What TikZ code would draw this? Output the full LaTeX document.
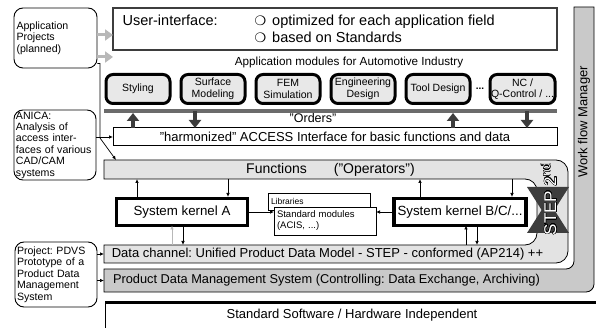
\documentclass[tikz,border=0pt]{standalone}
\usepackage{fontspec}
\setmainfont{Liberation Sans}
\newfontfamily\dingfont{DejaVu Sans}
\usepackage{contour}
\usetikzlibrary{arrows.meta, positioning}
\definecolor{bandgray}{gray}{0.89}
\definecolor{flowgray}{gray}{0.79}
\definecolor{modgray}{gray}{0.91}
\definecolor{bargray}{gray}{0.42}
\definecolor{ordergray}{gray}{0.24}
\definecolor{feedgray}{gray}{0.72}
\contourlength{0.35pt}
\contournumber{24}
\frenchspacing
\tikzstyle{project}=[rectangle, rounded corners=9pt, draw, line width=0.9pt, align=left, inner sep=1.5pt, text width=78pt, font=\fontsize{10.6}{11.4}\selectfont]
\tikzstyle{module}=[rectangle, rounded corners=7pt, draw, line width=3pt, fill=modgray, minimum width=64pt, minimum height=29pt, outer sep=0pt, inner sep=1pt, align=center, font=\fontsize{10.5}{11.5}\selectfont]
\tikzstyle{band}=[rectangle, outer sep=0pt, inner sep=0pt, font=\fontsize{13}{15}\selectfont]
\tikzstyle{kernel}=[rectangle, draw, line width=3.5pt, fill=white, minimum width=131pt, minimum height=27pt, outer sep=0pt, font=\fontsize{13.3}{15}\selectfont]
\tikzstyle{libbox}=[rectangle, draw, line width=0.8pt, fill=white, align=left, text width=96pt, inner xsep=3pt, inner ysep=1pt, outer sep=0pt]
\tikzstyle{link}=[-{Latex[length=4pt,width=3.5pt]}, line width=0.7pt]
\tikzstyle{order}=[-{Triangle[length=8pt,width=12pt]}, line width=3.5pt, draw=ordergray]
\tikzstyle{feed}=[-{Triangle[length=8pt,width=11pt]}, line width=3pt, draw=feedgray]

\begin{document}
\begin{tikzpicture}[x=1pt, y=-1pt]
  \useasboundingbox (0,0) rectangle (596,328);

  \path[draw, line width=0.8pt, fill=flowgray] (574,7) -- (594,7) -- (594,284)
    arc[start angle=0, end angle=-90, radius=8pt] -- (104,292) -- (104,269) -- (566,269)
    arc[start angle=-90, end angle=0, radius=8pt] -- cycle;
  \path[draw, line width=0.8pt, fill=bandgray] (104,160) -- (556,160)
    arc[start angle=90, end angle=0, radius=12pt] -- (568,251)
    arc[start angle=0, end angle=-90, radius=12pt] -- (104,263) -- (104,245) -- (525,245)
    arc[start angle=-90, end angle=0, radius=12pt] -- (537,191)
    arc[start angle=0, end angle=90, radius=12pt] -- (104,179) -- cycle;

  \node[project, minimum width=83pt, minimum height=60pt] (proj) at (55.5,38) {Application\\Projects\\(planned)};
  \node[project, minimum width=82pt, minimum height=70pt] (anica) at (55,145) {ANICA:\\Analysis of\\access inter-\\faces of various\\CAD/CAM\\systems};
  \node[project, minimum width=82pt, minimum height=65pt] (pdvs) at (56,274.5) {Project: PDVS\\Prototype of a\\Product Data\\Management\\System};

  \node[draw=ordergray, line width=2pt, minimum width=444pt, minimum height=42pt, outer sep=0pt] (ui) at (335,29) {};
  \node[anchor=west, font=\fontsize{14.5}{17}\selectfont] (uihead) at ([xshift=6pt, yshift=9pt]ui.west) {User-interface:};
  \node[anchor=west, align=left, font=\fontsize{14.5}{17}\selectfont] (uilist) at ([xshift=138pt]ui.west)
    {{\dingfont\fontsize{13}{13}\selectfont ❍}\hspace{6pt}optimized for each application field\\
     {\dingfont\fontsize{13}{13}\selectfont ❍}\hspace{6pt}based on Standards};

  \node[font=\fontsize{11.7}{13}\selectfont] (apptitle) at (349,62) {Application modules for Automotive Industry};
  \node[module] (m1) at (138,89) {Styling};
  \node[module] (m2) [right=11pt of m1] {Surface\\Modeling};
  \node[module] (m3) [right=11pt of m2] {FEM\\Simulation};
  \node[module] (m4) [right=11pt of m3] {Engineering\\Design};
  \node[module] (m5) [right=11pt of m4] {Tool Design};
  \node[module] (m6) [right=20pt of m5] {NC /\\Q-Control / ...};
  \node[font=\fontsize{10}{11}\selectfont\bfseries] (more) at (480,89) {...};

  \coordinate (barL) at (104,111);
  \coordinate (barR) at (557,111);
  \draw[line width=4pt, bargray] (barL) -- (barR);
  \node[font=\fontsize{12.5}{14}\selectfont] (orders) at (313,118.5) {"Orders"};
  \node[draw, line width=1pt, minimum width=444pt, minimum height=18pt, outer sep=0pt, font=\fontsize{13}{15}\selectfont] (acc) at (335,137)
    {"harmonized" ACCESS Interface for basic functions and data};

  \draw[order, shorten >=2pt] ([xshift=-202pt]acc.north) -- ([xshift=-202pt]acc.north |- barL);
  \draw[order] ([xshift=-140pt]acc.north |- barL) -- ([xshift=-140pt]acc.north);
  \draw[order, shorten >=2pt] ([xshift=118pt]acc.north) -- ([xshift=118pt]acc.north |- barL);
  \draw[order] ([xshift=192pt]acc.north |- barL) -- ([xshift=192pt]acc.north);

  \node[band, minimum width=453pt, minimum height=19pt, font=\fontsize{14}{16}\selectfont] (func) at (330.5,169.5) {Functions\hspace{27pt}("Operators")};
  \node[band, minimum width=447pt, minimum height=18pt] (dch) at (327.5,254) {Data channel: Unified Product Data Model - STEP - conformed (AP214) ++};
  \node[band, minimum width=445pt, minimum height=23pt, font=\fontsize{12.8}{15}\selectfont] (pdm) at (326.5,280.5) {Product Data Management System (Controlling: Data Exchange, Archiving)};

  \node[kernel] (kA) at (182,212) {System kernel A};
  \node[kernel] (kB) at (460,212) {System kernel B/C/...};
  \node[libbox, minimum height=17pt, font=\fontsize{8.5}{10}\selectfont] (lib) at (319,201.5) {Libraries};
  \node[libbox, minimum height=28pt, font=\fontsize{9.5}{11}\selectfont] (stdmod) at (325,221) {Standard modules\\(ACIS, ...)};

  \draw[link] ([xshift=-45pt]kA.north) -- ([xshift=-45pt]kA.north |- func.south);
  \draw[link, shorten >=1.5pt] ([xshift=46pt]kA.north |- func.south) -- ([xshift=46pt]kA.north);
  \draw[link, feedgray] ([xshift=-10pt]kA.south |- dch.north) -- ([xshift=-10pt]kA.south);
  \draw[link] ([xshift=1pt]kA.south) -- ([xshift=1pt]kA.south |- dch.north);
  \draw[link] ([xshift=-40pt]kB.north) -- ([xshift=-40pt]kB.north |- func.south);
  \draw[link, shorten >=1.5pt] ([xshift=52pt]kB.north |- func.south) -- ([xshift=52pt]kB.north);
  \draw[link] ([xshift=6pt]kB.south |- dch.north) -- ([xshift=6pt]kB.south);
  \draw[link] ([xshift=17pt]kB.south) -- ([xshift=17pt]kB.south |- dch.north);
  \draw[link] (kA.east) -- (kA.east -| stdmod.west);
  \draw[link] (kB.west) -- (kB.west -| stdmod.east);

  \fill[ordergray] (527,187) -- (569,187) -- (548,220) -- cycle;
  \fill[ordergray] (527,233) -- (569,233) -- (548,200) -- cycle;
  \node[rotate=90, font=\fontsize{17}{17}\selectfont] (step) at (549,199) {\contour{black}{\textcolor{white}{STEP 2\textsuperscript{nd}}}};
  \node[rotate=90, font=\fontsize{13}{16}\selectfont] (wfm) at (584,122) {Work flow Manager};

  \node[band, anchor=north west, minimum width=494pt, minimum height=26pt, fill=white] (stdsw) at (105,302) {Standard Software / Hardware Independent};
  \draw[line width=3pt] (stdsw.north west) -- (stdsw.north east);
  \draw[line width=1pt] (stdsw.north west) -- (stdsw.south west);

  \draw[feed] ([yshift=3pt]proj.east) -- ([yshift=3pt]proj.east -| ui.west);
  \draw[feed] ([yshift=-19pt]proj.east) -- ([yshift=-19pt]proj.east -| ui.west);
  \coordinate (turn) at (100,138);
  \draw[link] ([yshift=5pt]proj.south east) -| (turn) -- ([xshift=12pt]func.north west);
  \draw[link] (anica.east |- acc.west) -- (acc.west);
  \draw[link] (pdvs.east |- dch.west) -- (dch.west);
  \draw[link] (pdvs.east |- pdm.west) -- (pdm.west);
\end{tikzpicture}
\end{document}
